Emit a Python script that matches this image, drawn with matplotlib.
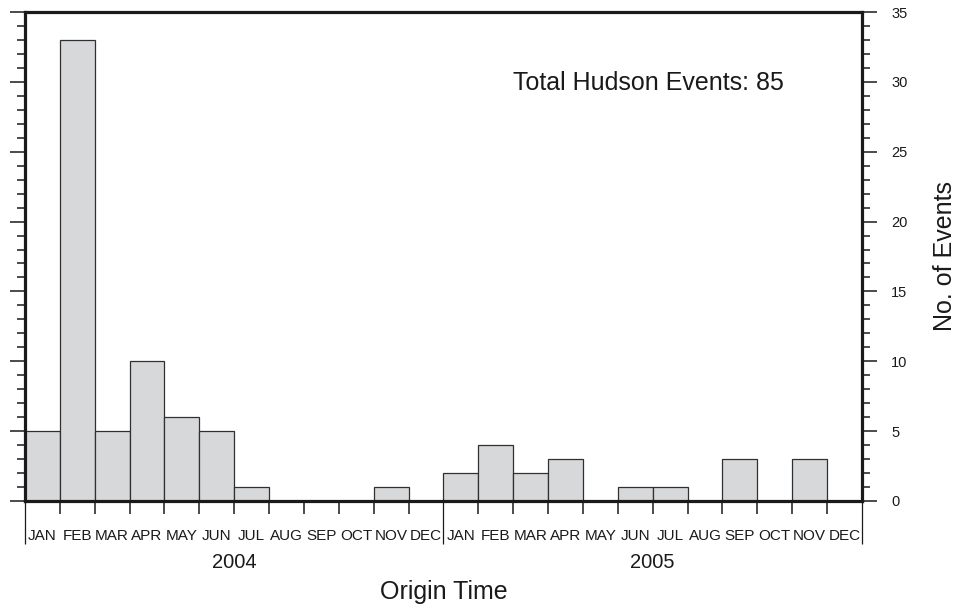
import numpy as np
import matplotlib
matplotlib.use('Agg')
import matplotlib.pyplot as plt
from matplotlib.ticker import MultipleLocator

plt.rcParams['font.family'] = ['Liberation Sans', 'DejaVu Sans']

MONTHS = ['JAN', 'FEB', 'MAR', 'APR', 'MAY', 'JUN',
          'JUL', 'AUG', 'SEP', 'OCT', 'NOV', 'DEC']
YEARS = ['2004', '2005']
# monthly event counts, Jan 2004 .. Dec 2005
counts_2004 = [5, 33, 5, 10, 6, 5, 1, 0, 0, 0, 1, 0]
counts_2005 = [2, 4, 2, 3, 0, 1, 1, 0, 3, 0, 3, 0]

counts = np.array(counts_2004 + counts_2005)
n = len(counts)
x = np.arange(n)

fig = plt.figure(figsize=(9.6, 6.08), dpi=100)
ax = fig.add_axes([25 / 960, 1 - 501 / 608, 837 / 960, 489 / 608])

ax.bar(x, counts, width=1.0, align='edge', color='#d7d8da',
       edgecolor='#303030', linewidth=0.9, zorder=2)

ax.set_xlim(0, n)
ax.set_ylim(0, 35)

for s in ax.spines.values():
    s.set_linewidth(2.3)
    s.set_color('#1a1a1a')
    s.set_zorder(3)

# y ticks on both sides, labels only on the right
ax.yaxis.set_major_locator(MultipleLocator(5))
ax.yaxis.set_minor_locator(MultipleLocator(1))
ax.tick_params(axis='y', which='both', direction='out', left=True, right=True,
               labelleft=False, labelright=True, colors='#1a1a1a')
ax.tick_params(axis='y', which='major', length=11, width=1.1, pad=10,
               labelsize=10.5)
ax.tick_params(axis='y', which='minor', length=5.5, width=1.1)

# month boundaries as minor ticks, year boundaries as long major ticks
ax.set_xticks(np.arange(0, n + 1, 12))
ax.set_xticks(np.arange(n + 1), minor=True)
ax.tick_params(axis='x', which='major', direction='out', length=31,
               width=0.9, labelbottom=False, colors='#1a1a1a')
ax.tick_params(axis='x', which='minor', direction='out', length=9,
               width=1.1, colors='#1a1a1a')

for i in range(n):
    ax.annotate(MONTHS[i % 12], xy=(i + 0.5, 0),
                xycoords=('data', 'axes fraction'),
                xytext=(0, -25.5), textcoords='offset points',
                ha='center', va='center', fontsize=11, color='#1a1a1a')

for k, yr in enumerate(YEARS):
    ax.annotate(yr, xy=(12 * k + 6, 0), xycoords=('data', 'axes fraction'),
                xytext=(0, -44), textcoords='offset points',
                ha='center', va='center', fontsize=14.5, color='#1a1a1a')

ax.annotate('Origin Time', xy=(0.5, 0), xycoords='axes fraction',
            xytext=(0, -65.5), textcoords='offset points',
            ha='center', va='center', fontsize=18, color='#1a1a1a')

fig.text(945 / 960, 1 - 256 / 608, 'No. of Events', rotation=90,
         ha='center', va='center', fontsize=18, color='#1a1a1a')

ax.text(0.583, 0.855, f'Total Hudson Events: {counts.sum()}',
        transform=ax.transAxes, ha='left', va='center', fontsize=18,
        color='#1a1a1a')

fig.savefig('out.png', dpi=100)
